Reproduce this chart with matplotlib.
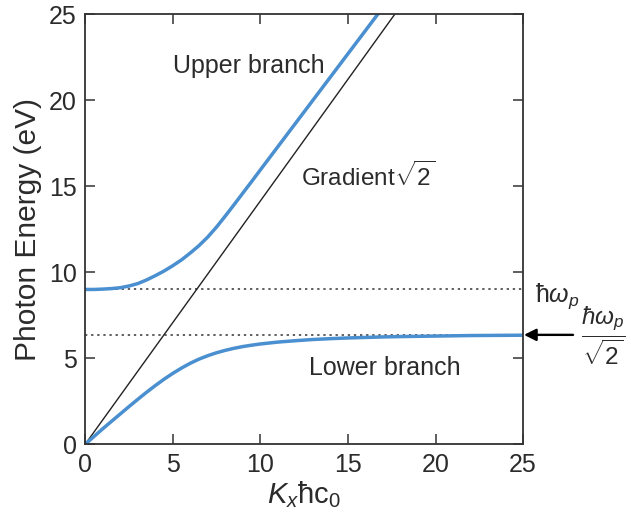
import matplotlib
matplotlib.use("Agg")
import matplotlib.pyplot as plt

plt.rcParams['font.family'] = ['Liberation Sans', 'DejaVu Sans']
plt.rcParams['mathtext.fontset'] = 'custom'
plt.rcParams['mathtext.rm'] = 'Liberation Sans'
plt.rcParams['mathtext.it'] = 'Liberation Sans:italic'
plt.rcParams['mathtext.bf'] = 'Liberation Sans:bold'

# values
k = [0, 0.5, 1, 1.5, 2, 2.5, 3, 3.5, 4, 4.5, 5, 5.5, 6, 6.5, 7, 7.5, 8, 8.5,
     9, 9.5, 10, 11, 12, 13, 14, 15, 16, 17]
upper = [9.0, 9.0, 9.02, 9.05, 9.1, 9.2, 9.34, 9.55, 9.8, 10.07, 10.38,
         10.72, 11.12, 11.55, 12.05, 12.63, 13.27, 13.93, 14.6, 15.27, 15.95,
         17.3, 18.65, 20.0, 21.35, 22.7, 24.05, 25.4]

k_low = [0, 0.5, 1, 1.5, 2, 2.5, 3, 3.5, 4, 4.5, 5, 5.5, 6, 6.5, 7, 7.5, 8,
         8.5, 9, 9.5, 10, 11, 12, 13, 14, 15, 16, 17, 18, 20, 22, 25]
lower = [0.0, 0.45, 0.9, 1.33, 1.76, 2.19, 2.61, 3.02, 3.41, 3.78, 4.12, 4.43,
         4.71, 4.95, 5.15, 5.32, 5.46, 5.58, 5.68, 5.76, 5.83, 5.94, 6.02,
         6.09, 6.14, 6.18, 6.21, 6.24, 6.26, 6.29, 6.32, 6.34]

light_k = [0, 18]
light_e = [0, 25.46]

e_plasma = 9.0
e_sp = 6.36

blue = '#4a8fcf'
txt = '#2b2b2b'

fig = plt.figure(figsize=(6.31, 5.27), dpi=100)
ax = fig.add_axes([0.135, 0.157, 0.694, 0.816])

ax.plot([0, 25], [e_plasma, e_plasma], color='#333333', lw=1.1,
        linestyle=(0, (1.5, 2.5)))
ax.plot([0, 25], [e_sp, e_sp], color='#333333', lw=1.1,
        linestyle=(0, (1.5, 2.5)))
ax.plot(light_k, light_e, color='#222222', lw=1.0)
ax.plot(k, upper, color=blue, lw=2.5, solid_capstyle='butt')
ax.plot(k_low, lower, color=blue, lw=2.5, solid_capstyle='butt')

ax.set_xlim(0, 25)
ax.set_ylim(0, 25)
ax.set_xticks([0, 5, 10, 15, 20, 25])
ax.set_yticks([0, 5, 10, 15, 20, 25])
ax.tick_params(direction='in', length=7, width=1.1, top=True, right=True,
               labelsize=18, colors='#333333', labelcolor=txt, pad=6)
for s in ax.spines.values():
    s.set_linewidth(1.3)
    s.set_color('#333333')

ax.set_xlabel(r'$K_x$ħc$_0$', fontsize=21, color=txt, labelpad=2)
ax.set_ylabel('Photon Energy (eV)', fontsize=21.5, color=txt, labelpad=5)

ax.text(5.0, 22.0, 'Upper branch', fontsize=18, color=txt, va='center')
ax.text(12.3, 15.6, r'Gradient$\sqrt{2}$', fontsize=17.5, color=txt,
        va='center')
ax.text(12.8, 4.45, 'Lower branch', fontsize=18, color=txt, va='center')

ax.text(25.7, 8.6, r'ħ$\omega_p$', fontsize=18, color=txt, va='center',
        ha='left', clip_on=False)
ax.text(29.6, 6.3, r'$\dfrac{ħ\omega_p}{\sqrt{2}}$', fontsize=17.5,
        color=txt, va='center', ha='center', clip_on=False)
ax.annotate('', xy=(25.05, e_sp), xytext=(27.85, e_sp),
            arrowprops=dict(arrowstyle='-|>', color='black', lw=1.7,
                            mutation_scale=18, shrinkA=0, shrinkB=0),
            annotation_clip=False)

fig.savefig('out.png', dpi=100)
